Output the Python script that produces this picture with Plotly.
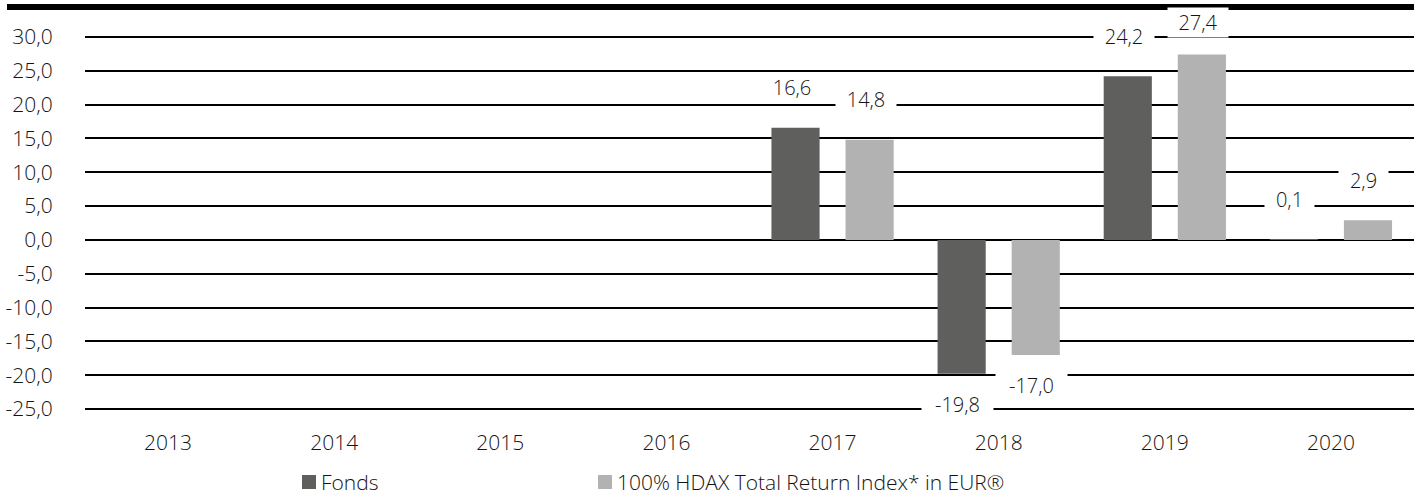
import plotly.graph_objects as go

years = ["2013", "2014", "2015", "2016", "2017", "2018", "2019", "2020"]
fonds = [None, None, None, None, 16.6, -19.8, 24.2, 0.1]
hdax = [None, None, None, None, 14.8, -17.0, 27.4, 2.9]
series_names = ["Fonds", "100% HDAX Total Return Index* in EUR®"]
series_colors = ["#5f5f5d", "#b2b2b2"]
y_ticks = [30, 25, 20, 15, 10, 5, 0, -5, -10, -15, -20, -25]

def fmt(v):
    return f"{v:.1f}".replace(".", ",")

W, H = 1419, 495
ML, MR, MT, MB = 85, 5, 34, 83
PW, PH = W - ML - MR, H - MT - MB
PXU = 372 / 55.0              # pixels per unit
EXTRA = (PH - 372) / 2 / PXU
ZERO_PX = MT + PH / 2 + (30 + EXTRA - (30 + EXTRA + 25 + EXTRA) / 2) * PXU
FONT = "Open Sans"
TXT = "#141414"
WGT = 300

def px_x(p):
    return (p - ML) / PW

def px_y(p):
    return (MT + PH - p) / PH

fig = go.Figure()
for name, vals, col in zip(series_names, [fonds, hdax], series_colors):
    fig.add_trace(go.Bar(x=years, y=vals, name=name, marker_color=col,
                         marker_line_width=0, showlegend=False))

annos = []
for vals, dx in [(fonds, -41), (hdax, 33)]:
    for i, v in enumerate(vals):
        if v is None:
            continue
        txt = fmt(v)
        if v >= 0:
            top_px = ZERO_PX - v * PXU
            shift = min(40, top_px - 22.5)   # keep clear of the top rule
        else:
            shift = -31
        annos.append(dict(x=i, y=v, xref="x", yref="y", text=txt,
                          showarrow=False, xshift=dx, yshift=shift,
                          font=dict(family=FONT, size=20, color=TXT, weight=WGT),
                          bgcolor="white", borderpad=1,
                          width=11 * len(txt) + 14))

# custom legend (squares + labels)
shapes = [dict(type="line", xref="paper", yref="paper",
               x0=px_x(7), x1=1.0, y0=px_y(7), y1=px_y(7),
               line=dict(color="black", width=6))]
leg_sq = [302, 598]
for name, col, sx in zip(series_names, series_colors, leg_sq):
    shapes.append(dict(type="rect", xref="paper", yref="paper",
                       x0=px_x(sx), x1=px_x(sx + 14), y0=px_y(475), y1=px_y(489),
                       fillcolor=col, line=dict(width=0)))
    annos.append(dict(x=px_x(sx + 17), y=px_y(482), xref="paper", yref="paper",
                      xanchor="left", yanchor="middle", showarrow=False,
                      text=name, font=dict(family=FONT, size=21, color=TXT, weight=WGT)))

fig.update_layout(
    width=W, height=H,
    margin=dict(l=ML, r=MR, t=MT, b=MB, autoexpand=False),
    paper_bgcolor="white", plot_bgcolor="white",
    bargap=0.108, bargroupgap=0.35, barmode="group",
    font=dict(family=FONT, size=20, color=TXT, weight=WGT),
    annotations=annos,
    shapes=shapes,
)
fig.update_xaxes(type="category", range=[-0.5, len(years) - 0.5],
                 showgrid=False, showline=False, ticks="outside",
                 ticklen=12, tickcolor="white", automargin=False,
                 tickfont=dict(family=FONT, size=21, color=TXT, weight=WGT))
fig.update_yaxes(range=[-25 - EXTRA, 30 + EXTRA], tickvals=y_ticks,
                 ticktext=[fmt(v) for v in y_ticks],
                 showgrid=True, gridcolor="black", gridwidth=2,
                 zeroline=True, zerolinecolor="black", zerolinewidth=2,
                 showline=False, ticks="outside", ticklen=27, tickcolor="white",
                 automargin=False,
                 tickfont=dict(family=FONT, size=21, color=TXT, weight=WGT))

fig.write_html("out.html", config={"displayModeBar": False},
               post_script="document.body.style.margin='0px';")
